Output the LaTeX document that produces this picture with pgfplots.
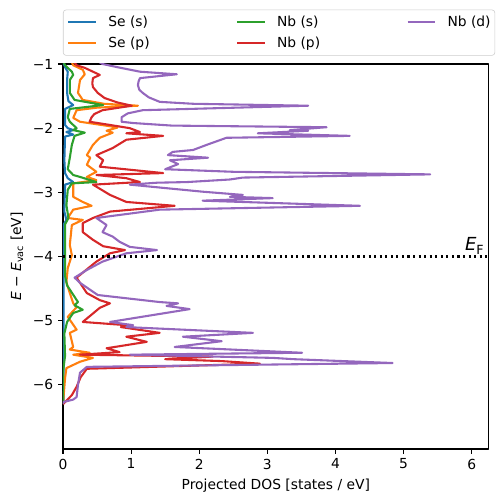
\documentclass[border=0pt]{standalone}
\usepackage{fontspec}
\setmainfont{DejaVu Sans}
\usepackage{pgfplots}
\pgfplotsset{compat=1.18}
\definecolor{tabblue}{HTML}{1F77B4}
\definecolor{taborange}{HTML}{FF7F0E}
\definecolor{tabgreen}{HTML}{2CA02C}
\definecolor{tabred}{HTML}{D62728}
\definecolor{tabpurple}{HTML}{9467BD}
\begin{document}
\begin{tikzpicture}
\useasboundingbox (-45.36bp,-38.16bp) rectangle (313.2bp,323.28bp);
\begin{axis}[
  at={(0,0)}, anchor=south west,
  scale only axis, width=306.5bp, height=277.2bp,
  xmin=0, xmax=6.25, ymin=-7, ymax=-1,
  xtick={0,1,2,3,4,5,6}, xticklabels={0,1,2,3,4,5,6},
  ytick={-6,-5,-4,-3,-2,-1}, yticklabels={−6,−5,−4,−3,−2,−1},
  /pgf/number format/assume math mode=true,
  tick align=outside, tick pos=left,
  major tick length=3.5bp,
  every tick/.style={black, line width=0.8bp},
  axis line style={line width=0.8bp},
  tick label style={font=\fontsize{10}{12}\selectfont},
  label style={font=\fontsize{10}{12}\selectfont},
  xlabel={Projected DOS [states / eV]},
  ylabel={\textit{E} − \textit{E}\textsubscript{vac} [eV]},
  legend columns=3,
  legend cell align=left,
  legend image code/.code={\draw[#1, line width=1.5bp] (0bp,0bp) -- (20bp,0bp);},
  legend style={at={(0,1)}, anchor=south west, yshift=6bp,
    draw=black!20, rounded corners=2bp, fill=white,
    inner xsep=3bp, inner ysep=4.4bp,
    nodes={inner sep=0pt, anchor=west, font=\fontsize{10}{12}\selectfont},
    row sep=5.8bp,
    /tikz/every odd column/.append style={column sep=8bp},
    /tikz/every even column/.append style={column sep=62.2bp}},
  line join=round,
]
% Se (s)
\addplot[tabblue, line width=1.5bp, forget plot] coordinates {
(0.0,-0.95) (0.03,-1.05) (0.07,-1.12) (0.06,-1.25) (0.06,-1.45) (0.08,-1.58)
(0.15,-1.64) (0.03,-1.70) (0.03,-1.95) (0.07,-2.00) (0.15,-2.03) (0.05,-2.06)
(0.15,-2.10) (0.03,-2.13) (0.02,-2.5) (0.03,-2.70) (0.07,-2.78) (0.15,-2.84)
(0.03,-2.88) (0.02,-3.3) (0.05,-3.43) (0.01,-3.5) (0.01,-6.3)
};
% Se (p)
\addplot[taborange, line width=1.5bp, forget plot] coordinates {
(0.12,-0.95) (0.15,-1.02) (0.29,-1.09) (0.32,-1.16) (0.25,-1.25) (0.22,-1.45)
(0.29,-1.56) (0.6,-1.62) (1.10,-1.65) (0.5,-1.68) (0.20,-1.72) (0.15,-1.84) (0.25,-1.90) (0.69,-1.97)
(0.80,-1.99) (0.64,-2.04) (0.73,-2.07) (0.54,-2.15) (0.44,-2.26) (0.35,-2.42)
(0.40,-2.46) (0.35,-2.57) (0.49,-2.68) (0.35,-2.76) (0.49,-2.81) (0.15,-2.86)
(0.15,-3.07) (0.29,-3.15) (0.42,-3.21) (0.15,-3.27) (0.07,-3.40) (0.29,-3.43)
(0.13,-3.51) (0.10,-3.82) (0.13,-3.98) (0.07,-4.18) (0.05,-4.40) (0.10,-4.57)
(0.15,-4.73) (0.20,-4.79) (0.07,-4.94) (0.20,-5.14) (0.10,-5.19) (0.15,-5.41)
(0.10,-5.45) (0.39,-5.50) (0.15,-5.53) (0.44,-5.58) (0.25,-5.64) (0.05,-5.74)
(0.03,-5.90) (0.0,-6.3)
};
% Nb (s)
\addplot[tabgreen, line width=1.5bp, forget plot] coordinates {
(0.0,-0.95) (0.03,-1.02) (0.13,-1.12) (0.15,-1.17) (0.10,-1.25) (0.10,-1.45)
(0.17,-1.56) (0.59,-1.64) (0.10,-1.70) (0.07,-1.83) (0.10,-1.90) (0.20,-2.00)
(0.15,-2.03) (0.32,-2.07) (0.17,-2.12) (0.13,-2.26) (0.10,-2.46) (0.07,-2.64)
(0.15,-2.73) (0.25,-2.76) (0.49,-2.84) (0.13,-2.86) (0.07,-2.96) (0.05,-3.2)
(0.08,-3.4) (0.03,-3.5) (0.03,-4.3) (0.06,-4.45) (0.22,-4.71) (0.17,-4.76)
(0.29,-4.83) (0.15,-4.88) (0.06,-5.02) (0.02,-5.2) (0.03,-5.55) (0.0,-5.8) (0.0,-6.3)
};
% Nb (p)
\addplot[tabred, line width=1.5bp, forget plot] coordinates {
(0.15,-0.95) (0.20,-1.02) (0.32,-1.06) (0.44,-1.12) (0.54,-1.17) (0.44,-1.22)
(0.43,-1.30) (0.44,-1.36) (0.51,-1.45) (0.61,-1.53) (0.80,-1.60) (1.01,-1.65) (0.58,-1.72)
(0.46,-1.78) (0.42,-1.83) (0.39,-1.90) (0.69,-1.95) (0.98,-2.00) (1.13,-2.06) (0.93,-2.08)
(1.47,-2.12) (0.93,-2.18) (0.73,-2.31) (0.49,-2.42) (0.59,-2.50) (0.54,-2.60)
(1.47,-2.70) (0.49,-2.73) (0.93,-2.78) (1.13,-2.84) (0.44,-2.88) (0.69,-3.04)
(0.93,-3.15) (1.64,-3.21) (0.69,-3.30) (0.44,-3.40) (0.29,-3.48) (0.29,-3.62)
(0.44,-3.74) (0.59,-3.84) (0.91,-3.90) (0.69,-3.95) (0.49,-4.08) (0.20,-4.33)
(0.35,-4.57) (0.54,-4.68) (0.69,-4.73) (0.54,-4.80) (0.29,-5.02) (0.93,-5.07)
(0.85,-5.10) (1.42,-5.19) (0.93,-5.25) (1.23,-5.33) (0.64,-5.43) (0.83,-5.49)
(0.25,-5.53) (2.2,-5.56) (1.5,-5.60) (2.33,-5.63) (2.89,-5.67) (0.35,-5.75)
(0.26,-5.88) (0.20,-6.03) (0.13,-6.16) (0.03,-6.27) (0.0,-6.30)
};
% Nb (d)
\addplot[tabpurple, line width=1.5bp, forget plot] coordinates {
(0.50,-0.95) (0.58,-1.00) (0.80,-1.05) (1.13,-1.12) (1.67,-1.16) (1.13,-1.22)
(1.11,-1.27) (1.10,-1.33) (1.12,-1.40) (1.17,-1.45) (1.26,-1.52) (1.42,-1.59) (1.91,-1.62) (3.60,-1.65) (1.17,-1.72)
(0.95,-1.77) (0.86,-1.83) (0.86,-1.90) (1.03,-1.92) (1.6,-1.96) (3.87,-1.985) (3.33,-2.03)
(3.60,-2.04) (2.86,-2.08) (4.21,-2.12) (2.40,-2.15) (2.11,-2.26) (1.91,-2.34)
(1.61,-2.37) (1.54,-2.42) (2.13,-2.46) (1.57,-2.50) (1.69,-2.56) (1.50,-2.64)
(2.5,-2.68) (5.39,-2.72) (2.64,-2.77) (2.45,-2.80) (1.82,-2.84) (1.38,-2.85)
(0.98,-2.88) (2.05,-2.99) (2.64,-3.04) (2.45,-3.07) (3.08,-3.09) (2.05,-3.13)
(4.36,-3.21) (1.42,-3.27) (0.49,-3.40) (0.64,-3.51) (0.58,-3.62) (0.73,-3.69)
(0.83,-3.77) (0.98,-3.85) (1.38,-3.90) (0.93,-3.95) (0.58,-4.08) (0.35,-4.21)
(0.17,-4.33) (0.25,-4.41) (0.29,-4.44) (0.51,-4.60) (1.42,-4.71) (1.69,-4.73)
(1.52,-4.77) (1.86,-4.82) (0.69,-5.02) (1.03,-5.07) (0.93,-5.10) (2.79,-5.19)
(1.76,-5.25) (2.33,-5.32) (1.64,-5.41) (3.51,-5.50) (0.98,-5.53) (3.08,-5.58)
(3.38,-5.60) (4.84,-5.66) (0.35,-5.72) (0.25,-5.81) (0.22,-6.0) (0.20,-6.19) (0.15,-6.23)
(0.0,-6.27) (0.0,-6.30)
};
% Fermi level
\addplot[black, line width=1.5bp, dash pattern=on 1.5bp off 2.5bp, forget plot] coordinates {(0,-4) (6.25,-4)};
\node[anchor=base west, inner sep=0pt, font=\fontsize{13}{15}\selectfont] at (axis cs:5.90,-3.91) {\textit{E}\textsubscript{F}};
% legend (matplotlib column-wise order)
\addlegendimage{tabblue}\addlegendentry{Se (s)}
\addlegendimage{tabgreen}\addlegendentry{Nb (s)}
\addlegendimage{tabpurple}\addlegendentry{Nb (d)}
\addlegendimage{taborange}\addlegendentry{Se (p)}
\addlegendimage{tabred}\addlegendentry{Nb (p)}
\end{axis}
\end{tikzpicture}
\end{document}
